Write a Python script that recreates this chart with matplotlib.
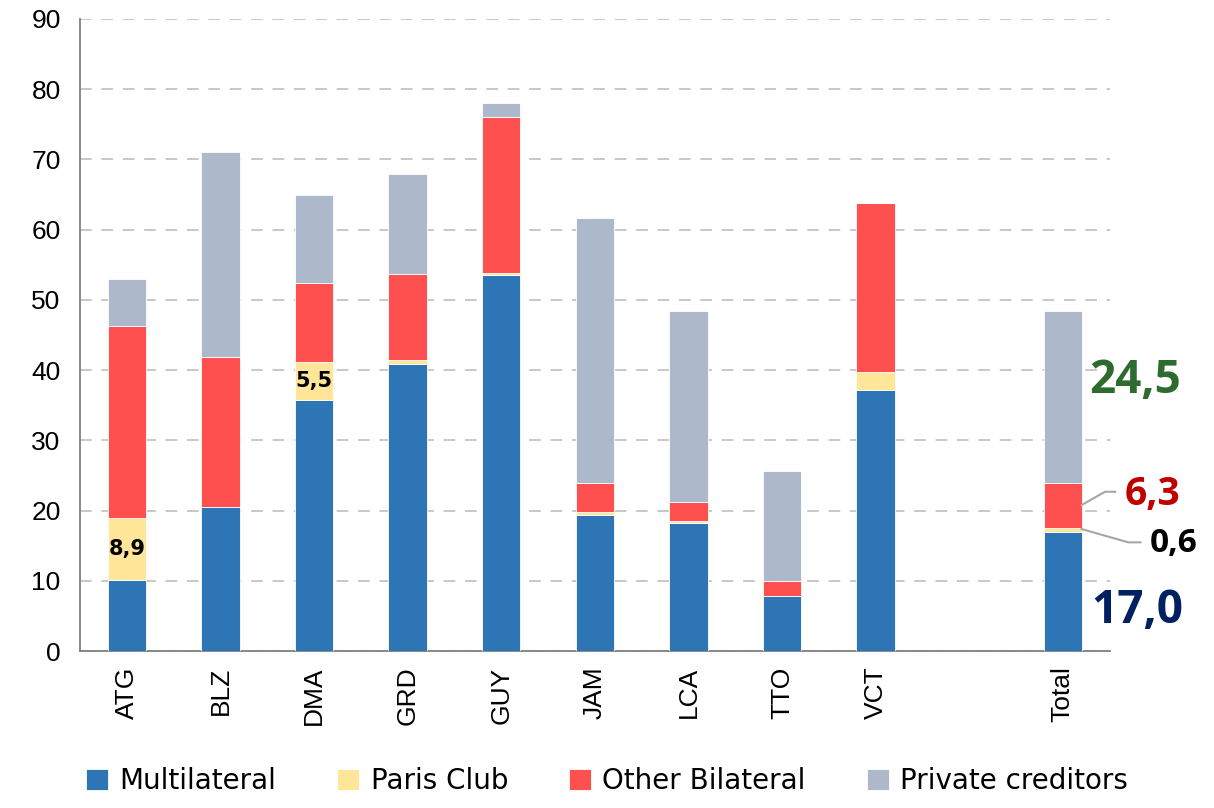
import numpy as np
import matplotlib.pyplot as plt

countries = ['ATG', 'BLZ', 'DMA', 'GRD', 'GUY', 'JAM', 'LCA', 'TTO', 'VCT', '', 'Total']
multilateral = [10.1, 20.5, 35.7, 40.9, 53.6, 19.4, 18.2, 7.8, 37.2, 0, 17.0]
paris_club = [8.9, 0.1, 5.5, 0.6, 0.3, 0.4, 0.4, 0.0, 2.5, 0, 0.6]
other_bilateral = [27.3, 21.3, 11.2, 12.2, 22.2, 4.1, 2.6, 2.2, 24.1, 0, 6.3]
private = [6.7, 29.1, 12.5, 14.3, 2.0, 37.8, 27.2, 15.6, 0.0, 0, 24.5]

series = [multilateral, paris_club, other_bilateral, private]
names = ['Multilateral', 'Paris Club', 'Other Bilateral', 'Private creditors']
colors = ['#2E75B6', '#FFE699', '#FF5050', '#ADB9CA']

fig = plt.figure(figsize=(12.14, 8.08), dpi=100)
ax = fig.add_axes([0.066, 0.194, 0.848, 0.7825])

x = np.arange(len(countries))
bottom = np.zeros(len(countries))
for vals, name, c in zip(series, names, colors):
    vals = np.array(vals)
    ax.bar(x, vals, 0.41, bottom=bottom, color=c, label=name,
           edgecolor='white', linewidth=0.6, zorder=3)
    bottom += vals

ax.set_xlim(-0.5, 10.5)
ax.set_ylim(0, 90)
ax.set_yticks(range(0, 91, 10))
ax.set_xticks(x)
ax.set_xticklabels(countries, rotation=90, fontsize=19, family='Liberation Sans')
for t in ax.get_yticklabels():
    t.set_family('Liberation Sans')
ax.tick_params(axis='y', labelsize=19, length=0, pad=14)
ax.tick_params(axis='x', length=0, pad=11)
ax.yaxis.grid(True, linestyle=(0, (6, 5)), color='#C8C8C8', linewidth=1.4, zorder=0)
for s in ['top', 'right']:
    ax.spines[s].set_visible(False)
ax.spines['left'].set_color('#7F7F7F')
ax.spines['bottom'].set_color('#7F7F7F')
ax.spines['bottom'].set_linewidth(1.3)
ax.spines['left'].set_linewidth(1.3)

# labels inside bars
ax.text(0, multilateral[0] + paris_club[0] / 2, '8,9', ha='center', va='center',
        fontsize=15, fontweight='bold', zorder=5)
ax.text(2, multilateral[2] + paris_club[2] / 2, '5,5', ha='center', va='center',
        fontsize=15, fontweight='bold', zorder=5)

# total bar labels
big = ['Open Sans', 'DejaVu Sans']
ax.text(10.28, 38.6, '24,5', color='#2E6B2E', fontsize=33, fontweight='bold',
        ha='left', va='center', family=big, clip_on=False)
ax.text(10.66, 22.3, '6,3', color='#C00000', fontsize=28, fontweight='bold',
        ha='left', va='center', family=big, clip_on=False)
ax.text(10.93, 15.3, '0,6', color='black', fontsize=24, fontweight='bold',
        ha='left', va='center', family=big, clip_on=False)
ax.text(10.3, 5.8, '17,0', color='#002060', fontsize=33, fontweight='bold',
        ha='left', va='center', family=big, clip_on=False)
ax.plot([10.2, 10.45, 10.56], [20.8, 22.7, 22.7], color='#A6A6A6', lw=1.5,
        zorder=4, clip_on=False)
ax.plot([10.2, 10.7, 10.83], [17.4, 15.5, 15.5], color='#A6A6A6', lw=1.5,
        zorder=4, clip_on=False)

fig.legend(loc='lower center', bbox_to_anchor=(0.5, -0.015), ncol=4, frameon=False,
           handlelength=0.8, handleheight=0.8, columnspacing=2.2,
           handletextpad=0.4, prop={'family': ['DejaVu Sans'], 'size': 20})

fig.savefig('out.png', dpi=100)
